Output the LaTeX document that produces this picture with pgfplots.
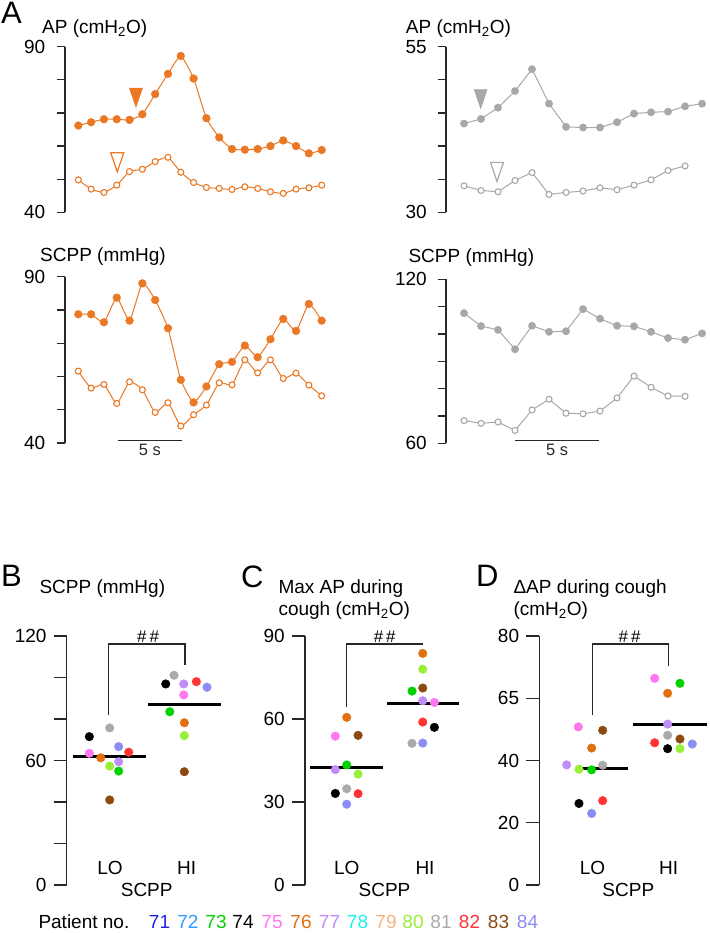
\documentclass[border=0pt]{standalone}
\usepackage{fontspec}
\setmainfont{Liberation Sans}
\usepackage{pgfplots}
\pgfplotsset{compat=1.18}
\usepackage{pgfplotstable}

\definecolor{apor}{RGB}{234,120,36}
\definecolor{apgr}{RGB}{168,168,168}
\definecolor{axc}{RGB}{40,40,40}
\definecolor{c71}{RGB}{34,34,232}
\definecolor{c72}{RGB}{51,153,255}
\definecolor{c73}{RGB}{0,210,0}
\definecolor{c74}{RGB}{0,0,0}
\definecolor{c75}{RGB}{255,119,240}
\definecolor{c76}{RGB}{224,112,16}
\definecolor{c77}{RGB}{192,140,248}
\definecolor{c78}{RGB}{34,238,238}
\definecolor{c79}{RGB}{248,178,122}
\definecolor{c80}{RGB}{153,238,58}
\definecolor{c81}{RGB}{170,170,170}
\definecolor{c82}{RGB}{255,51,51}
\definecolor{c83}{RGB}{139,74,15}
\definecolor{c84}{RGB}{140,140,245}

\newcommand\fs{\fontsize{19}{22}\selectfont}
\newcommand\fL{\fontsize{31}{34}\selectfont}

\pgfdeclareplotmark{dtri}{%
  \pgfpathmoveto{\pgfqpoint{-6.5pt}{9.5pt}}%
  \pgfpathlineto{\pgfqpoint{6.5pt}{9.5pt}}%
  \pgfpathlineto{\pgfqpoint{0pt}{-9.5pt}}%
  \pgfpathclose\pgfusepathqfillstroke}

\pgfplotsset{
  base/.style={scale only axis, axis x line=none, axis y line=left,
    y axis line style={-, line width=1.3pt, color=axc},
    ytick style={line width=1.3pt, color=axc},
    tick align=outside, clip=false, anchor=south west,
    /pgf/number format/assume math mode=true,
    tick label style={font=\fs, text=black},
    yticklabel style={inner sep=0pt}},
  trace/.style={base, major tick length=8pt},
  dots/.style={base, major tick length=13pt, yticklabel style={xshift=-7pt}},
  filled/.style={color=#1, line width=1pt, mark=*, mark size=3.9pt,
    mark options={fill=#1, draw=#1, line width=0.4pt}},
  open/.style={color=#1, line width=1pt, mark=*, mark size=3.0pt,
    mark options={fill=white, draw=#1, line width=1.1pt}},
  pclasses/.style={scatter, only marks, mark=*, mark size=4.3pt,
    scatter src=explicit symbolic,
    scatter/classes={
      p71={draw=c71,fill=c71}, p72={draw=c72,fill=c72},
      p73={draw=c73,fill=c73}, p74={draw=c74,fill=c74},
      p75={draw=c75,fill=c75}, p76={draw=c76,fill=c76},
      p77={draw=c77,fill=c77}, p78={draw=c78,fill=c78},
      p79={draw=c79,fill=c79}, p80={draw=c80,fill=c80},
      p81={draw=c81,fill=c81}, p82={draw=c82,fill=c82},
      p83={draw=c83,fill=c83}, p84={draw=c84,fill=c84}}},
}

% ---------- traces, panel A ----------
\pgfplotstableread{
t hi lo
0 66.2 49.8
1 67.2 47.0
2 68.1 46.0
3 68.1 48.2
4 67.9 52.3
5 69.6 53.0
6 75.7 55.3
7 81.8 56.6
8 87.2 52.1
9 80.4 49.0
10 68.4 47.5
11 62.6 47.2
12 59.1 46.9
13 58.9 47.7
14 59.1 47.2
15 60.0 46.2
16 61.7 45.7
17 60.0 47.0
18 57.8 47.4
19 58.8 48.2
}\APleft
\pgfplotstableread{
t hi lo
0 78.7 61.6
1 78.7 56.5
2 76.3 57.6
3 83.7 51.9
4 76.8 58.4
5 88.0 56.0
6 83.0 49.2
7 74.5 52.1
8 59.0 45.1
9 52.2 48.5
10 57.0 51.4
11 63.7 58.1
12 64.4 57.5
13 69.3 65.0
14 65.8 61.1
15 71.2 65.0
16 77.3 59.4
17 73.7 61.0
18 81.8 57.4
19 76.8 54.2
}\SCPPleft
\pgfplotstableread{
t hi
0 43.4
1 44.1
2 45.8
3 48.3
4 51.6
5 46.4
6 42.9
7 42.8
8 42.8
9 43.6
10 44.9
11 45.1
12 45.2
13 46.0
14 46.4
}\APrightHi
\pgfplotstableread{
t lo
0 34.0
1 33.3
2 33.1
3 34.8
4 36.0
5 32.7
6 33.0
7 33.2
8 33.7
9 33.4
10 34.1
11 34.9
12 36.3
13 37.0
}\APrightLo
\pgfplotstableread{
t hi
0 107.6
1 102.9
2 101.5
3 94.4
4 103.0
5 100.8
6 101.0
7 109.1
8 105.6
9 103.0
10 102.8
11 100.8
12 98.5
13 97.9
14 100.2
}\SCPPrightHi
\pgfplotstableread{
t lo
0 68.3
1 67.3
2 67.8
3 64.7
4 72.2
5 76.1
6 71.0
7 70.8
8 71.8
9 76.6
10 84.6
11 80.5
12 77.3
13 77.2
}\SCPPrightLo

% ---------- panels B, C, D ----------
\pgfplotstableread{
x y c
0.728 71.5 p74
0.996 75.7 p81
0.728 63.5 p75
0.878 61.3 p76
1.114 66.7 p84
1.246 64.0 p82
0.996 57.3 p80
1.114 59.4 p77
1.114 54.9 p73
0.996 41.0 p83
1.733 96.9 p74
1.842 101.1 p81
1.970 96.9 p77
2.136 98.0 p82
2.276 95.3 p84
1.970 91.6 p75
1.786 83.5 p73
1.978 78.2 p76
1.978 72.0 p80
1.978 54.6 p83
}\Bdata
\pgfplotstableread{
x y c
1.000 60.6 p76
0.850 53.8 p75
1.149 54.1 p83
1.000 43.4 p73
0.850 41.7 p77
1.149 40.1 p80
1.000 34.8 p81
0.850 33.1 p74
1.149 33.0 p82
1.000 29.2 p84
2.000 83.7 p76
2.000 78.0 p80
1.859 70.1 p73
2.000 71.2 p83
2.000 66.6 p77
2.153 66.0 p75
2.000 58.9 p82
2.153 57.0 p74
1.859 51.2 p81
2.000 51.3 p84
}\Cdata
\pgfplotstableread{
x y c
0.824 50.8 p75
1.145 49.7 p83
1.000 44.0 p76
0.671 38.6 p77
0.833 37.2 p80
1.000 37.0 p73
1.145 38.5 p81
0.833 26.2 p74
1.145 27.1 p82
1.000 23.0 p84
1.829 66.4 p75
2.162 64.8 p73
2.000 61.6 p76
2.000 51.7 p77
2.000 48.1 p81
2.162 46.9 p83
1.829 45.7 p82
2.000 43.8 p74
2.162 43.8 p80
2.324 45.3 p84
}\Ddata

\begin{document}
\begin{tikzpicture}
\useasboundingbox (0,0) rectangle (709pt,-933pt);

% ===== A, top left: AP =====
\begin{axis}[trace, at={(65pt,-212.3pt)}, width=265pt, height=165.6pt,
  xmin=-1.04, xmax=19.65, ymin=40, ymax=90,
  yticklabel style={xshift=-11.5pt},
  ytick={40,50,...,90}, yticklabels={40,,,,,90}]
\addplot[filled=apor, smooth, tension=0.3] table[x=t,y=hi] {\APleft};
\addplot[open=apor, smooth, tension=0.3] table[x=t,y=lo] {\APleft};
\addplot[only marks, mark=dtri, mark options={fill=apor, draw=apor, line width=0.5pt}] coordinates {(4.50,74.6)};
\addplot[only marks, mark=dtri, mark options={fill=white, draw=apor, line width=1.2pt}] coordinates {(3.04,55.1)};
\end{axis}

% ===== A, bottom left: SCPP =====
\begin{axis}[trace, at={(65pt,-443pt)}, width=265pt, height=166.3pt,
  xmin=-1.04, xmax=19.65, ymin=40, ymax=90,
  yticklabel style={xshift=-11.5pt},
  ytick={40,50,...,90}, yticklabels={40,,,,,90}]
\addplot[filled=apor, smooth, tension=0.3] table[x=t,y=hi] {\SCPPleft};
\addplot[open=apor, smooth, tension=0.3] table[x=t,y=lo] {\SCPPleft};
\draw[line width=1.3pt, color=axc] (axis cs:3.08,40.7) -- (axis cs:8.08,40.7)
  node[midway, below=3pt, inner sep=0pt, font=\fontsize{16.5}{19}\selectfont] {5 s};
\end{axis}

% ===== A, top right: AP =====
\begin{axis}[trace, at={(446pt,-212.3pt)}, width=263pt, height=165.6pt,
  xmin=-1.06, xmax=14.41, ymin=30, ymax=55,
  yticklabel style={xshift=-11pt},
  ytick={30,35,...,55}, yticklabels={30,,,,,55}]
\addplot[filled=apgr, mark size=3.7pt] table[x=t,y=hi] {\APrightHi};
\addplot[open=apgr] table[x=t,y=lo] {\APrightLo};
\addplot[only marks, mark=dtri, mark options={fill=apgr, draw=apgr, line width=0.5pt}] coordinates {(0.98,47.1)};
\addplot[only marks, mark=dtri, mark options={fill=white, draw=apgr, line width=1.2pt}] coordinates {(1.94,36.1)};
\end{axis}

% ===== A, bottom right: SCPP =====
\begin{axis}[trace, at={(446pt,-443.3pt)}, width=263pt, height=164pt,
  xmin=-1.06, xmax=14.41, ymin=60, ymax=120,
  yticklabel style={xshift=-11pt},
  ytick={60,70,...,120}, yticklabels={60,,,,,,120}]
\addplot[filled=apgr, mark size=3.7pt] table[x=t,y=hi] {\SCPPrightHi};
\addplot[open=apgr] table[x=t,y=lo] {\SCPPrightLo};
\draw[line width=1.3pt, color=axc] (axis cs:3.0,61.1) -- (axis cs:7.96,61.1)
  node[midway, below=3pt, inner sep=0pt, font=\fontsize{16.5}{19}\selectfont] {5 s};
\end{axis}

% ===== B =====
\begin{axis}[dots, at={(66.7pt,-885pt)}, width=163.4pt, height=249pt,
  xmin=0.43, xmax=2.58, ymin=0, ymax=120,
  ytick={0,20,...,120}, yticklabels={0,,,60,,,120}]
\addplot[pclasses] table[x=x,y=y,meta=c] {\Bdata};
\addplot[black, line width=3pt] coordinates {(0.509,61.8) (1.470,61.8)};
\addplot[black, line width=3pt] coordinates {(1.496,87.1) (2.457,87.1)};
\addplot[axc, line width=1.3pt] coordinates {(0.983,81.9) (0.983,116.1) (1.987,116.1) (1.987,106.0)};
\node[anchor=south, inner sep=1.5pt, font=\fontsize{17}{19}\selectfont] at (axis cs:1.5,116.1) {\#\hspace{3pt}\#};
\end{axis}

% ===== C =====
\begin{axis}[dots, at={(305pt,-885pt)}, width=160.1pt, height=249pt,
  xmin=0.451, xmax=2.557, ymin=0, ymax=90,
  ytick={0,30,60,90}]
\addplot[pclasses] table[x=x,y=y,meta=c] {\Cdata};
\addplot[black, line width=3pt] coordinates {(0.517,42.4) (1.474,42.4)};
\addplot[black, line width=3pt] coordinates {(1.526,65.5) (2.482,65.5)};
\addplot[axc, line width=1.3pt] coordinates {(1.0,64.4) (1.0,87.1) (2.0,87.1)};
\node[anchor=south, inner sep=1.5pt, font=\fontsize{17}{19}\selectfont] at (axis cs:1.5,87.1) {\#\hspace{3pt}\#};
\end{axis}

% ===== D =====
\begin{axis}[dots, at={(539.3pt,-885pt)}, width=169.6pt, height=249pt,
  xmin=0.311, xmax=2.543, ymin=0, ymax=80,
  ytick={0,20,40,60,80}, yticklabels={0,20,40,65,80}]
\addplot[pclasses] table[x=x,y=y,meta=c] {\Ddata};
\addplot[black, line width=3pt] coordinates {(0.792,37.4) (1.482,37.4)};
\addplot[black, line width=3pt] coordinates {(1.547,51.6) (2.513,51.6)};
\addplot[axc, line width=1.3pt] coordinates {(1.008,54.6) (1.008,77.4) (2.008,77.4) (2.008,70.5)};
\node[anchor=south, inner sep=1.5pt, font=\fontsize{17}{19}\selectfont] at (axis cs:1.5,77.4) {\#\hspace{3pt}\#};
\end{axis}

% ===== texts =====
\begin{scope}[every node/.style={inner sep=0pt, font=\fs}]
\node[anchor=base west, font=\fL] at (1pt,-24pt) {A};
\node[anchor=base west] at (42pt,-33.3pt) {AP (cmH\textsubscript{2}O)};
\node[anchor=base west] at (405.7pt,-33.3pt) {AP (cmH\textsubscript{2}O)};
\node[anchor=base west] at (40pt,-261.7pt) {SCPP (mmHg)};
\node[anchor=base west] at (408.3pt,-262.7pt) {SCPP (mmHg)};

\node[anchor=base west, font=\fL] at (1pt,-586.7pt) {B};
\node[anchor=base west] at (39.3pt,-593.3pt) {SCPP (mmHg)};
\node[anchor=base west, font=\fL] at (241pt,-587.3pt) {C};
\node[anchor=base west] at (278.3pt,-593.3pt) {Max AP during};
\node[anchor=base west] at (278.3pt,-615pt) {cough (cmH\textsubscript{2}O)};
\node[anchor=base west, font=\fL] at (476pt,-586.7pt) {D};
\node[anchor=base west] at (513.3pt,-593.3pt) {ΔAP during cough};
\node[anchor=base west] at (513.3pt,-615pt) {(cmH\textsubscript{2}O)};

\node[anchor=base] at (110pt,-874pt) {LO};
\node[anchor=base] at (186.7pt,-874pt) {HI};
\node[anchor=base] at (146.7pt,-896pt) {SCPP};
\node[anchor=base] at (346.7pt,-874pt) {LO};
\node[anchor=base] at (425pt,-874pt) {HI};
\node[anchor=base] at (384.5pt,-896pt) {SCPP};
\node[anchor=base] at (592.5pt,-874pt) {LO};
\node[anchor=base] at (668.7pt,-874pt) {HI};
\node[anchor=base] at (628.3pt,-896pt) {SCPP};

\node[anchor=base west] at (38.3pt,-928.3pt) {Patient no.};
\node[anchor=base, text=c71] at (159.5pt,-928.3pt) {71};
\node[anchor=base, text=c72] at (188pt,-928.3pt) {72};
\node[anchor=base, text=c73] at (216pt,-928.3pt) {73};
\node[anchor=base, text=c74] at (243pt,-928.3pt) {74};
\node[anchor=base, text=c75] at (272pt,-928.3pt) {75};
\node[anchor=base, text=c76] at (301pt,-928.3pt) {76};
\node[anchor=base, text=c77] at (329.5pt,-928.3pt) {77};
\node[anchor=base, text=c78] at (357.5pt,-928.3pt) {78};
\node[anchor=base, text=c79] at (386pt,-928.3pt) {79};
\node[anchor=base, text=c80] at (413pt,-928.3pt) {80};
\node[anchor=base, text=c81] at (441pt,-928.3pt) {81};
\node[anchor=base, text=c82] at (469.5pt,-928.3pt) {82};
\node[anchor=base, text=c83] at (498.5pt,-928.3pt) {83};
\node[anchor=base, text=c84] at (527.5pt,-928.3pt) {84};
\end{scope}
\end{tikzpicture}
\end{document}
